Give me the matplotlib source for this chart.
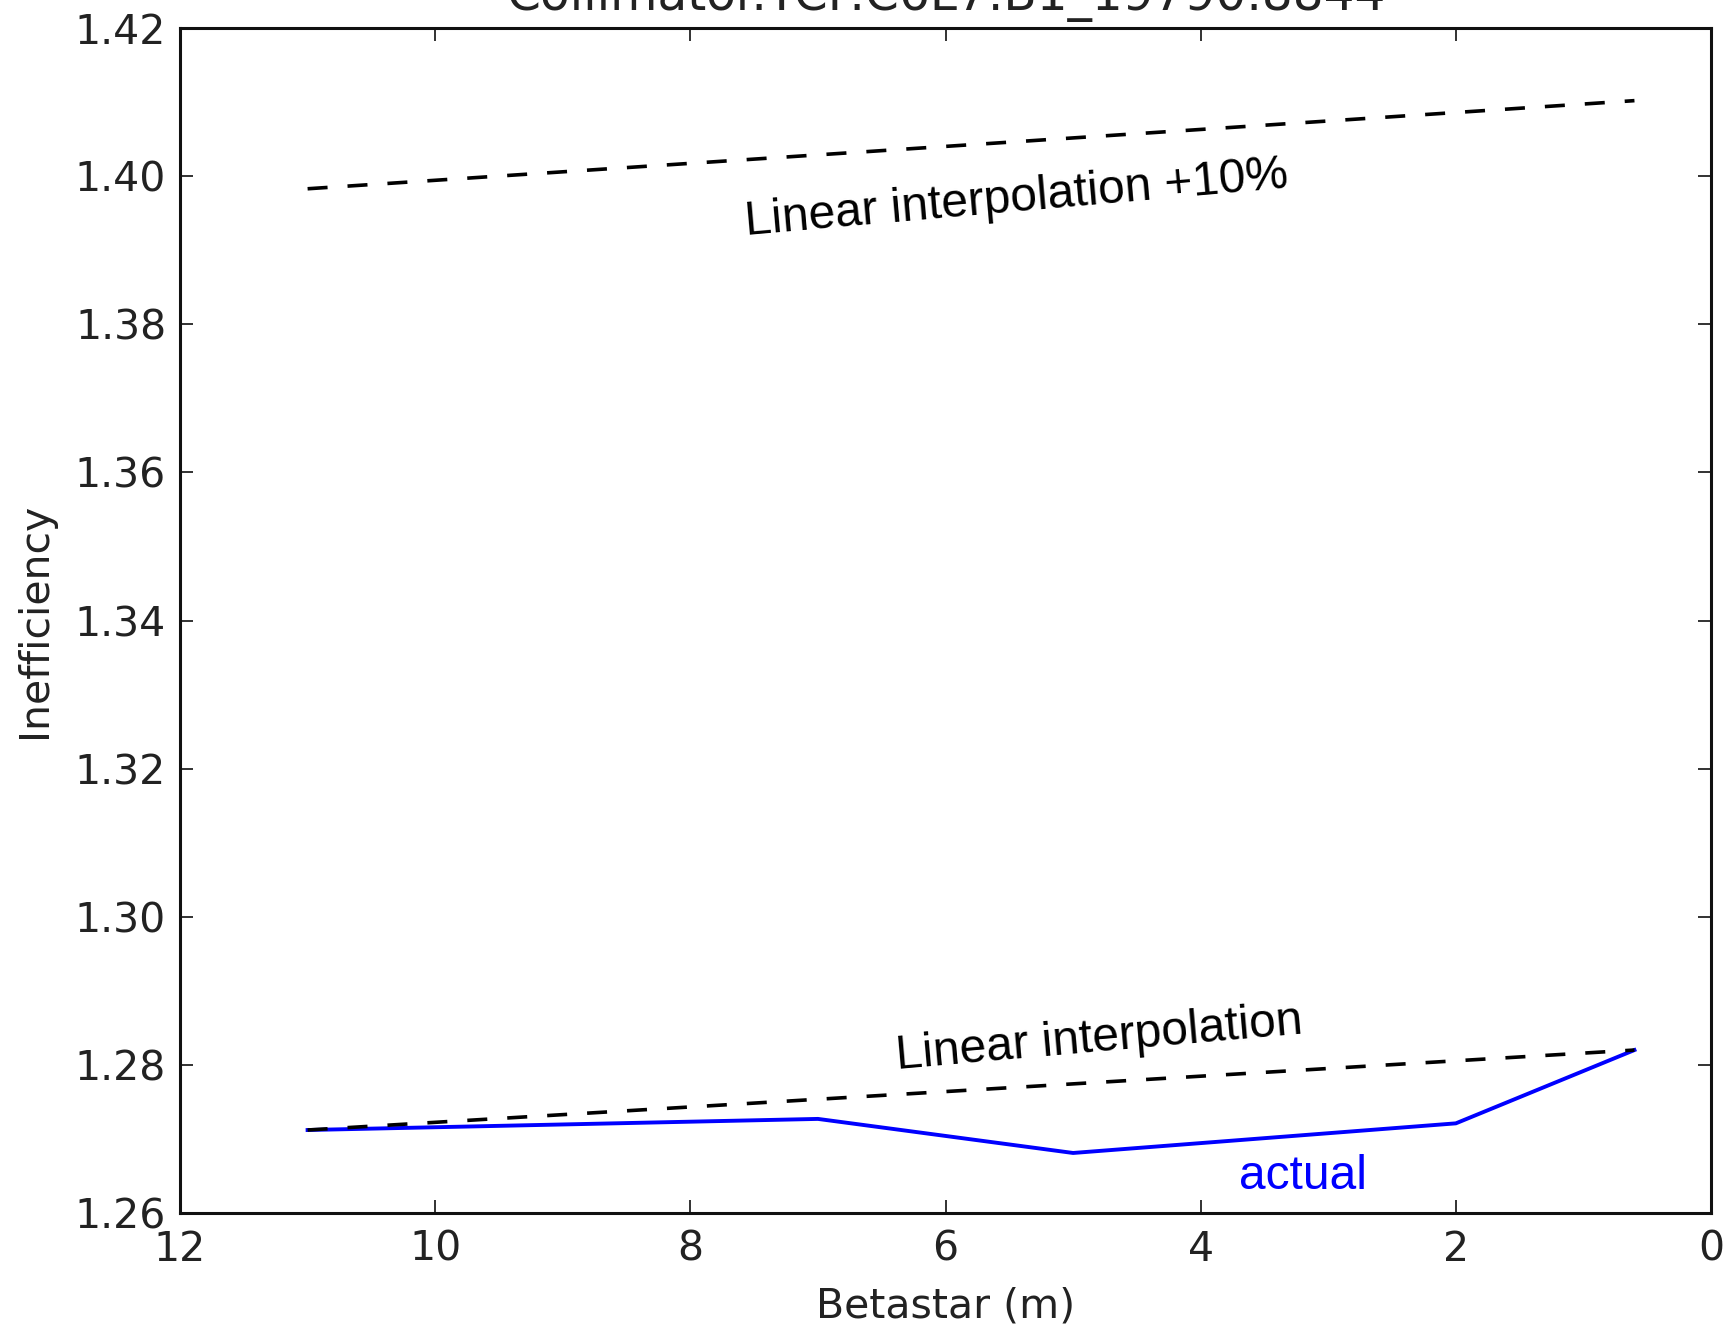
import matplotlib
matplotlib.use("Agg")
import matplotlib.pyplot as plt
from matplotlib.ticker import FormatStrFormatter

# Data
title = "Collimator.TCP.C6L7.B1_19790.8844"
betastar = [11, 7, 5, 2, 0.6]
actual = [1.2712, 1.2727, 1.2681, 1.2721, 1.2820]
interp_x = [11, 0.6]
interp_y = [1.2712, 1.2820]
interp_plus10_y = [1.3983, 1.4102]
x_ticks = [12, 10, 8, 6, 4, 2, 0]
y_ticks = [1.26, 1.28, 1.30, 1.32, 1.34, 1.36, 1.38, 1.40, 1.42]

plt.rcParams['lines.scale_dashes'] = False
plt.rcParams['font.family'] = 'DejaVu Sans'

fig = plt.figure(figsize=(17.36, 13.30), dpi=100)
ax = fig.add_axes([0.1037, 0.0880, 0.9856 - 0.1037, 0.9789 - 0.0880])

ax.plot(betastar, actual, color='#0000ff', lw=2.8)
ax.plot(interp_x, interp_y, color='black', lw=2.6, linestyle=(0, (14.4, 14.4)))
ax.plot(interp_x, interp_plus10_y, color='black', lw=2.6, linestyle=(0, (14.4, 14.4)))

ann_font = dict(family='Liberation Sans', fontsize=34.5)
ax.text(7.56, 1.3921, "Linear interpolation +10%", rotation=5, rotation_mode='anchor',
        ha='left', va='baseline', color='black', **ann_font)
ax.text(6.38, 1.2795, "Linear interpolation", rotation=5, rotation_mode='anchor',
        ha='left', va='baseline', color='black', **ann_font)
ax.text(3.70, 1.2633, "actual", ha='left', va='baseline', color='#0000ff', **ann_font)

ax.set_xlim(12, 0)
ax.set_ylim(1.26, 1.42)
ax.set_xticks(x_ticks)
ax.set_yticks(y_ticks)
ax.yaxis.set_major_formatter(FormatStrFormatter('%.2f'))
ax.tick_params(direction='in', length=9.5, width=1.3, top=True, right=True,
               labelsize=29.5, colors='#222222')
ax.tick_params(axis='x', pad=12)
ax.tick_params(axis='y', pad=10)
for sp in ax.spines.values():
    sp.set_linewidth(2.2)
    sp.set_color('#111111')

ax.set_xlabel("Betastar (m)", fontsize=29.5, color='#222222', labelpad=12)
ax.set_ylabel("Inefficiency", fontsize=29.5, color='#222222', labelpad=14)
ax.set_title(title, fontsize=35, color='#222222', pad=13)

fig.savefig("out.png", dpi=100)
